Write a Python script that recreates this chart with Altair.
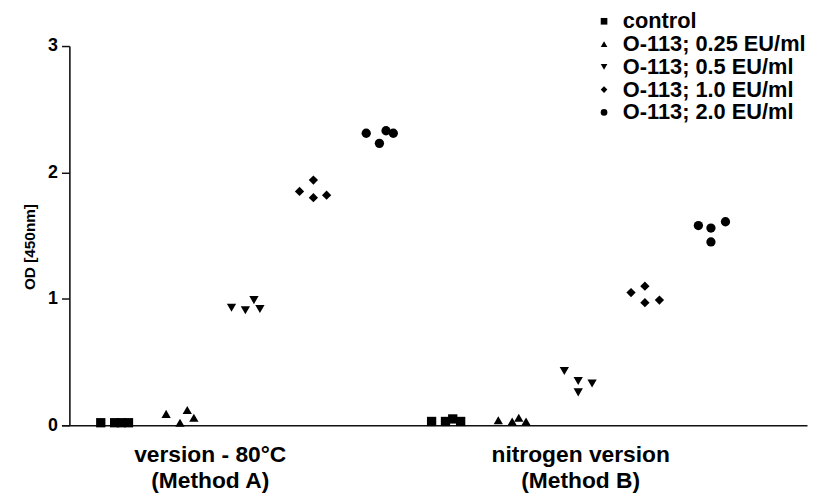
import altair as alt
import pandas as pd

# group labels / legend conditions
conditions = ["control", "O-113; 0.25 EU/ml", "O-113; 0.5 EU/ml",
              "O-113; 1.0 EU/ml", "O-113; 2.0 EU/ml"]
shapes = ["square", "triangle-up", "triangle-down", "diamond", "circle"]
method_pos = [1.42, 7.03]
method_lines = [["version - 80°C", "(Method A)"], ["nitrogen version", "(Method B)"]]
y_title = "OD [450nm]"

# x positions (group index units, incl. scatter offsets) and OD values
# Method A
a_control_x = [-0.23, -0.02, 0.08, 0.19]
a_control_y = [0.02, 0.02, 0.02, 0.02]
a_025_x = [0.76, 0.97, 1.08, 1.18]
a_025_y = [0.09, 0.02, 0.12, 0.06]
a_05_x = [1.75, 1.96, 2.09, 2.18]
a_05_y = [0.93, 0.91, 0.99, 0.92]
a_10_x = [2.78, 2.99, 2.99, 3.19]
a_10_y = [1.85, 1.94, 1.80, 1.82]
a_20_x = [3.79, 3.99, 4.09, 4.20]
a_20_y = [2.31, 2.23, 2.33, 2.31]
# Method B
b_control_x = [4.78, 4.99, 5.10, 5.22]
b_control_y = [0.03, 0.03, 0.05, 0.03]
b_025_x = [5.79, 6.00, 6.10, 6.21]
b_025_y = [0.04, 0.03, 0.06, 0.03]
b_05_x = [6.79, 7.00, 7.21, 7.00]
b_05_y = [0.43, 0.35, 0.33, 0.26]
b_10_x = [7.80, 8.01, 8.01, 8.23]
b_10_y = [1.05, 1.10, 0.97, 0.99]
b_20_x = [8.82, 9.01, 9.23, 9.01]
b_20_y = [1.58, 1.56, 1.61, 1.45]

groups = [
    (a_control_x, a_control_y, 0), (a_025_x, a_025_y, 1), (a_05_x, a_05_y, 2),
    (a_10_x, a_10_y, 3), (a_20_x, a_20_y, 4),
    (b_control_x, b_control_y, 0), (b_025_x, b_025_y, 1), (b_05_x, b_05_y, 2),
    (b_10_x, b_10_y, 3), (b_20_x, b_20_y, 4),
]
rows = []
for xs, ys, ci in groups:
    for xv, yv in zip(xs, ys):
        rows.append({"x": xv, "od": yv, "condition": conditions[ci]})
df = pd.DataFrame(rows)

label_expr = "datum.value < 4 ? ['{}', '{}'] : ['{}', '{}']".format(
    method_lines[0][0], method_lines[0][1], method_lines[1][0], method_lines[1][1])

FONT = "Liberation Sans"

points = alt.Chart(df).mark_point(filled=True, opacity=1, size=88, color="black").encode(
    x=alt.X("x:Q",
            scale=alt.Scale(domain=[-0.825, 10.465], nice=False, zero=False),
            axis=alt.Axis(values=method_pos, labelExpr=label_expr, ticks=False, grid=False,
                          title=None, labelFontSize=23, labelFontWeight="bold",
                          labelFont=FONT, labelColor="black", labelPadding=19,
                          labelLineHeight=26, labelOverlap=False, labelFlush=False,
                          labelBaseline="top", labelLimit=400,
                          domainColor="#111111", domainWidth=1.6)),
    y=alt.Y("od:Q",
            scale=alt.Scale(domain=[0, 3], nice=False),
            axis=alt.Axis(values=[0, 1, 2, 3], format="d", grid=False, offset=-8,
                          tickSize=8, tickWidth=1.5, tickColor="#111111",
                          domainColor="#111111", domainWidth=1.6,
                          labelFontSize=18, labelFontWeight="bold", labelFont=FONT,
                          labelColor="black", labelPadding=4, title=None)),
    shape=alt.Shape("condition:N",
                    scale=alt.Scale(domain=conditions, range=shapes),
                    legend=alt.Legend(title=None, orient="none", legendX=537, legendY=-36,
                                      labelFontSize=22, labelFontWeight="bold",
                                      labelFont=FONT, labelColor="black", labelLimit=400,
                                      symbolSize=45, symbolFillColor="black",
                                      symbolStrokeColor="black", symbolOpacity=1,
                                      labelOffset=8, rowPadding=1, padding=0)),
)

title_df = pd.DataFrame({"t": [y_title]})
ytitle = alt.Chart(title_df).mark_text(
    angle=270, align="center", baseline="middle", fontSize=15.5,
    fontWeight="bold", font=FONT, color="black"
).encode(text="t:N", x=alt.value(-32), y=alt.value(203))

chart = alt.layer(points, ytitle).properties(
    width=753, height=383,
    background="white",
    autosize=alt.AutoSizeParams(type="none"),
    padding={"left": 54, "top": 36, "right": 2, "bottom": 66},
).configure_view(stroke=None)

chart.save("out.html", embed_options={"renderer": "svg", "actions": False})
